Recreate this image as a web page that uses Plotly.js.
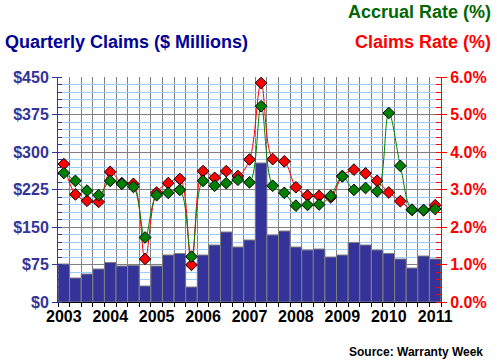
<!DOCTYPE html>
<html>
<head>
<meta charset="utf-8">
<script src="https://cdn.plot.ly/plotly-3.0.1.min.js"></script>
<style>html,body{margin:0;padding:0;background:#fff;}#chart{width:497px;height:363px;}</style>
</head>
<body>
<div id="chart"></div>
<script>
const quarters = ["2003Q1","2003Q2","2003Q3","2003Q4","2004Q1","2004Q2","2004Q3","2004Q4",
  "2005Q1","2005Q2","2005Q3","2005Q4","2006Q1","2006Q2","2006Q3","2006Q4",
  "2007Q1","2007Q2","2007Q3","2007Q4","2008Q1","2008Q2","2008Q3","2008Q4",
  "2009Q1","2009Q2","2009Q3","2009Q4","2010Q1","2010Q2","2010Q3","2010Q4","2011Q1"];
const claims = [76,48,56,66,79,72,73,32,72,94,97,30,94,114,140,110,124,278,134,142,110,104,106,90,94,119,114,104,97,86,68,92,86];
const claimsRate = [3.68,2.87,2.70,2.67,3.47,3.17,3.15,1.15,2.92,3.17,3.28,0.99,3.49,3.31,3.49,3.36,3.80,5.84,3.81,3.75,3.06,2.84,2.83,2.79,3.36,3.53,3.43,3.23,2.92,2.69,2.46,2.45,2.58];
const accrualRate = [3.44,3.23,2.97,2.85,3.23,3.15,3.07,1.72,2.85,2.91,2.99,1.21,3.23,3.10,3.17,3.26,3.19,5.22,3.10,2.91,2.57,2.59,2.60,2.83,3.35,2.99,3.04,2.95,5.04,3.63,2.46,2.45,2.48];
const yearLabels = ["2003","2004","2005","2006","2007","2008","2009","2010","2011"];
const leftTicks = [0,75,150,225,300,375,450];
const rightTicks = [0,1,2,3,4,5,6];

const xs = quarters.map((q,i)=>i);
const yearPos = yearLabels.map((y,i)=>i*4);
const boundaries = quarters.map((q,i)=>i-0.5).concat([quarters.length-0.5]);

const FONT = "Liberation Sans, Arial, sans-serif";
const NAVY = "#333399";

const traces = [
  {type:'bar', x:xs, y:claims, width:1, marker:{color:NAVY, line:{color:'#808080', width:1}}, yaxis:'y', hoverinfo:'skip'},
  {type:'scatter', mode:'lines+markers', x:xs, y:claimsRate, yaxis:'y2',
   line:{color:'#ff0000', width:1, shape:'spline', smoothing:1},
   marker:{symbol:'diamond', size:9, color:'#ff0000', line:{color:'#000', width:1}}, hoverinfo:'skip'},
  {type:'scatter', mode:'lines+markers', x:xs, y:accrualRate, yaxis:'y2',
   line:{color:'#008000', width:1, shape:'spline', smoothing:1},
   marker:{symbol:'diamond', size:9, color:'#008000', line:{color:'#000', width:1}}, hoverinfo:'skip'}
];

const layout = {
  width:497, height:363,
  margin:{l:58, r:56, t:77, b:61},
  paper_bgcolor:'#fff', plot_bgcolor:'#fff',
  showlegend:false, bargap:0,
  font:{family:FONT, size:16, weight:'bold'},
  xaxis:{range:[-0.5, quarters.length-0.5], tickmode:'array', tickvals:yearPos, ticktext:yearLabels,
    ticks:'', showgrid:false, zeroline:false, showline:true, linecolor:'#000', linewidth:1,
    tickfont:{family:FONT, size:16, color:'#000', weight:'bold'},
    minor:{tickmode:'array', tickvals:boundaries, ticks:'outside', ticklen:4, tickcolor:'#000', tickwidth:1,
      showgrid:true, gridcolor:'#808080', gridwidth:1}},
  yaxis:{range:[0,450], tickmode:'array', tickvals:leftTicks, ticktext:leftTicks.map(v=>'$'+v),
    ticks:'outside', ticklen:5, tickcolor:NAVY, showline:true, linecolor:NAVY, linewidth:1,
    showgrid:true, gridcolor:'#808080', gridwidth:1, zeroline:false,
    tickfont:{family:FONT, size:16, color:NAVY, weight:'bold'},
    minor:{dtick:15, ticks:'inside', ticklen:4, tickcolor:NAVY, showgrid:true, gridcolor:'#99ccff', gridwidth:1}},
  yaxis2:{range:[0,6], overlaying:'y', side:'right', tickmode:'array', tickvals:rightTicks,
    ticktext:rightTicks.map(v=>v.toFixed(1)+'%'),
    ticks:'outside', ticklen:5, tickcolor:'#ff0000', showline:true, linecolor:'#ff0000', linewidth:1,
    showgrid:false, zeroline:false,
    tickfont:{family:FONT, size:16, color:'#ff0000', weight:'bold'},
    minor:{dtick:0.2, ticks:'inside', ticklen:5, tickcolor:'#ff0000', showgrid:false}},
  annotations:[
    {text:'Quarterly Claims ($ Millions)', xref:'paper', yref:'paper', x:-0.1436, y:1.1556, xanchor:'left', yanchor:'middle', showarrow:false,
     font:{family:FONT, size:18, color:'#000099', weight:'bold'}},
    {text:'Accrual Rate (%)', xref:'paper', yref:'paper', x:1.136, y:1.289, xanchor:'right', yanchor:'middle', showarrow:false,
     font:{family:FONT, size:18, color:'#006600', weight:'bold'}},
    {text:'Claims Rate (%)', xref:'paper', yref:'paper', x:1.136, y:1.1556, xanchor:'right', yanchor:'middle', showarrow:false,
     font:{family:FONT, size:18, color:'#ff0000', weight:'bold'}},
    {text:'Source: Warranty Week', xref:'paper', yref:'paper', x:1.115, y:-0.222, xanchor:'right', yanchor:'middle', showarrow:false,
     font:{family:FONT, size:12, color:'#000', weight:'bold'}}
  ]
};

Plotly.newPlot('chart', traces, layout, {staticPlot:true, displayModeBar:false});
</script>
</body>
</html>
